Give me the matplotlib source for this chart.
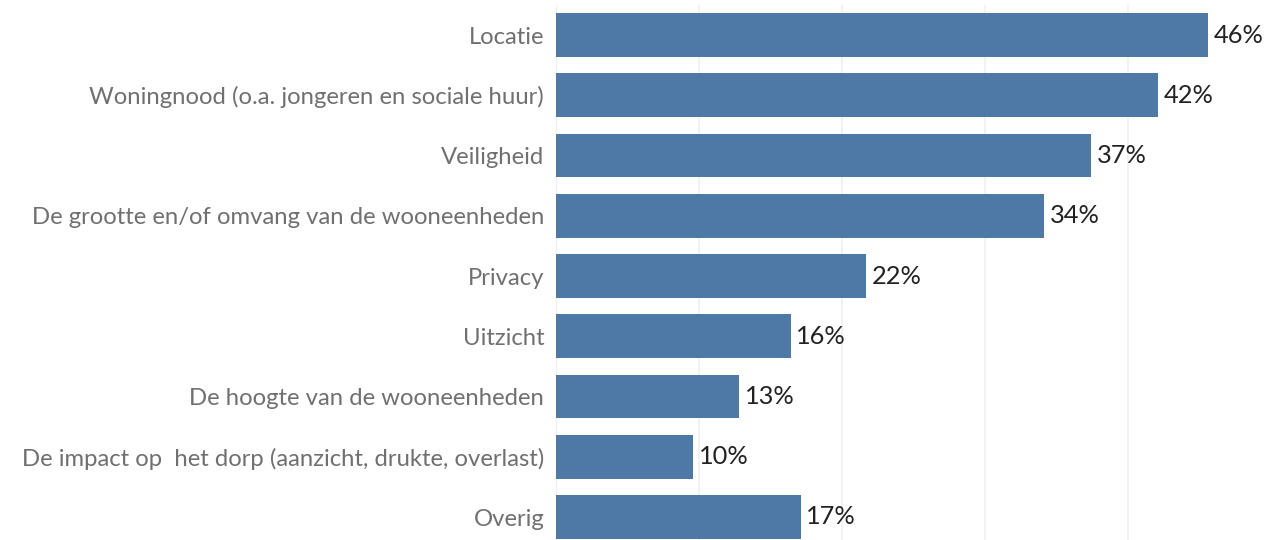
import matplotlib.pyplot as plt

categories = [
    "Locatie",
    "Woningnood (o.a. jongeren en sociale huur)",
    "Veiligheid",
    "De grootte en/of omvang van de wooneenheden",
    "Privacy",
    "Uitzicht",
    "De hoogte van de wooneenheden",
    "De impact op  het dorp (aanzicht, drukte, overlast)",
    "Overig",
]
values = [45.6, 42.1, 37.4, 34.1, 21.7, 16.4, 12.8, 9.6, 17.1]

BAR = "#4e79a7"

plt.rcParams["font.family"] = ["Lato", "DejaVu Sans"]

fig = plt.figure(figsize=(12.66, 5.40), dpi=100)
# axes placed in pixel terms: left 556, right 1266, top row centred at 35
row = 60.25
top = 35 - row / 2
bottom = 517 + row / 2
ax = fig.add_axes([556 / 1266, 1 - bottom / 540, (1266 - 556) / 1266, (bottom - top) / 540])

ys = list(range(len(categories)))
ax.barh(ys, values, height=0.73, color=BAR, zorder=3)
for y, v in zip(ys, values):
    ax.text(v + 0.4, y, f"{round(v)}%", va="center", ha="left",
            fontsize=18.3, color="#222222", zorder=4)

ax.set_yticks(ys)
ax.set_yticklabels(categories, fontsize=17.2, color="#707070")
ax.set_ylim(len(categories) - 0.5, -0.5)
ax.set_xlim(0, 49.65)
ax.set_xticks([10, 20, 30, 40])
ax.tick_params(axis="x", bottom=False, labelbottom=False)
ax.tick_params(axis="y", left=False, pad=5)
ax.grid(axis="x", color="#f0f0f0", linewidth=1.2, zorder=0)
for s in ax.spines.values():
    s.set_visible(False)
ax.axvline(0, color="#f0f0f0", linewidth=1.0, zorder=1)

fig.savefig("out.png", dpi=100)
